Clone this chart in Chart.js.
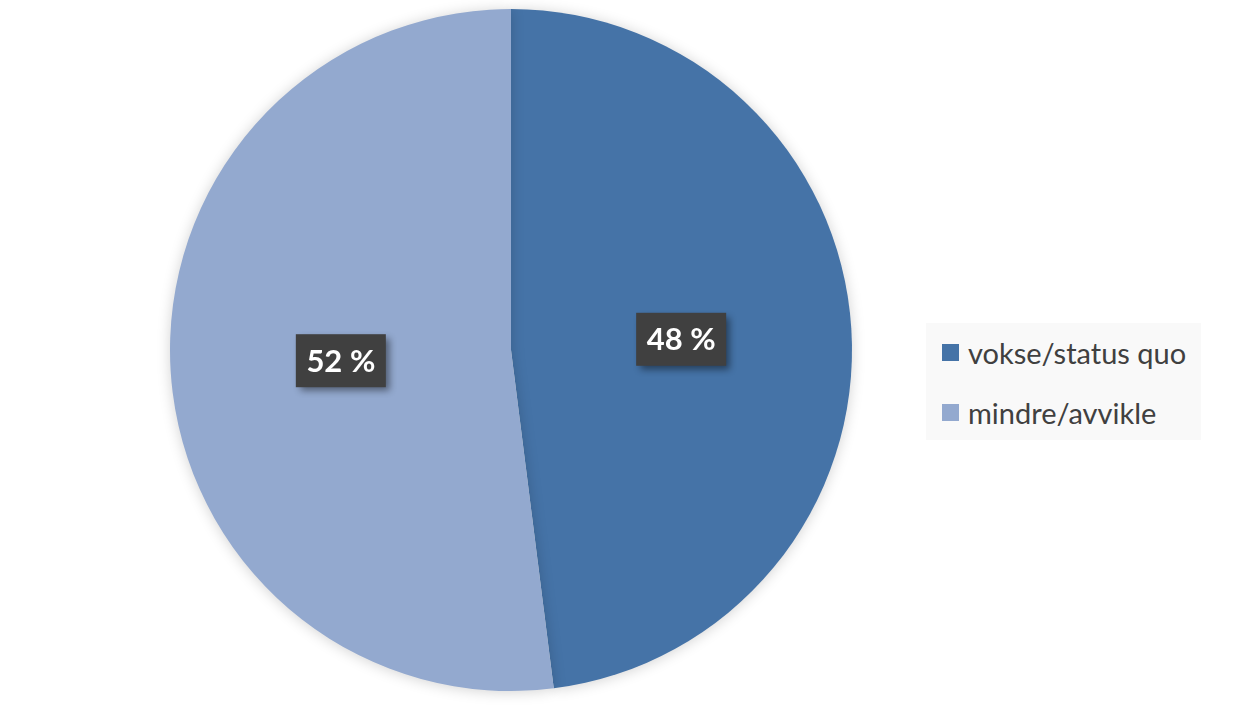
<!DOCTYPE html>
<html>
<head>
<meta charset="utf-8">
<script src="https://cdn.jsdelivr.net/npm/chart.js@4/dist/chart.umd.min.js"></script>
<style>
  html, body { margin: 0; padding: 0; background: #ffffff; }
  #wrap { position: relative; width: 1233px; height: 717px; }
  #legend {
    position: absolute; left: 926px; top: 323px; width: 275px; height: 117px;
    background: #f9f9f9; font-family: Lato, "Open Sans", sans-serif; font-size: 29px; color: #404040;
  }
  .item { position: absolute; left: 16px; display: flex; align-items: center; white-space: nowrap; }
  .swatch { width: 17px; height: 17px; margin-right: 9px; }
</style>
</head>
<body>
<div id="wrap">
  <canvas id="chart" width="1233" height="717"></canvas>
  <div id="legend"></div>
</div>
<script>
// ── Data ─────────────────────────────────────────────────────────────────────
const categories = ['vokse/status quo', 'mindre/avvikle'];
const shares     = [48, 52];
const colors     = ['#4573a7', '#93a9cf'];

// ── Pie shadow ───────────────────────────────────────────────────────────────
const pieShadow = {
  id: 'pieShadow',
  beforeDatasetsDraw(chart) {
    const ctx = chart.ctx;
    ctx.save();
    ctx.shadowColor = 'rgba(0,0,0,0.18)';
    ctx.shadowBlur = 14;
    ctx.shadowOffsetX = 0;
    ctx.shadowOffsetY = 1;
  },
  afterDatasetsDraw(chart) {
    chart.ctx.restore();
  },
};

// ── Value boxes ──────────────────────────────────────────────────────────────
const valueBoxes = {
  id: 'valueBoxes',
  afterDatasetsDraw(chart) {
    const ctx = chart.ctx;
    const meta = chart.getDatasetMeta(0);
    meta.data.forEach((arc, i) => {
      const p = arc.tooltipPosition();
      const w = 90, h = 53;
      ctx.save();
      ctx.shadowColor = 'rgba(0,0,0,0.45)';
      ctx.shadowBlur = 7;
      ctx.shadowOffsetX = 4;
      ctx.shadowOffsetY = 4;
      ctx.fillStyle = '#404040';
      ctx.fillRect(p.x - w / 2, p.y - h / 2, w, h);
      ctx.restore();
      ctx.save();
      ctx.fillStyle = '#ffffff';
      ctx.font = 'bold 31px Lato, "Open Sans", sans-serif';
      ctx.textAlign = 'center';
      ctx.textBaseline = 'middle';
      ctx.fillText(`${shares[i]} %`, p.x, p.y + 1);
      ctx.restore();
    });
  },
};

new Chart(document.getElementById('chart'), {
  type: 'pie',
  data: {
    labels: categories,
    datasets: [{ data: shares, backgroundColor: colors, borderWidth: 0 }],
  },
  options: {
    responsive: false,
    animation: false,
    layout: { padding: { left: 170, right: 381, top: 9, bottom: 26 } },
    plugins: { legend: { display: false }, tooltip: { enabled: false } },
  },
  plugins: [pieShadow, valueBoxes],
});

// ── Legend ───────────────────────────────────────────────────────────────────
const $legend = document.getElementById('legend');
const rowTops = [12, 72];
categories.forEach((c, i) => {
  const item = document.createElement('div');
  item.className = 'item';
  item.style.top = rowTops[i] + 'px';
  item.innerHTML = `<span class="swatch" style="background:${colors[i]}"></span><span>${c}</span>`;
  $legend.appendChild(item);
});
</script>
</body>
</html>
